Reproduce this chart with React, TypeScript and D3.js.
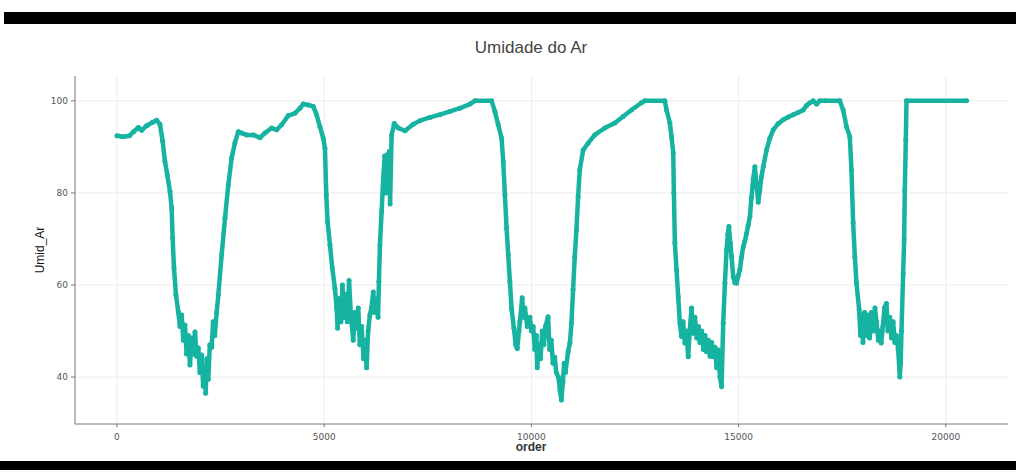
import React from "react";
import * as d3 from "d3";

// readings: order (x) and Umid_Ar (y)
const orders = [
  0, 150, 300, 400, 515, 595, 716, 850, 957, 1037, 1102, 1158, 1214, 1279, 1319, 1343, 1375, 1423, 1479,
  1520, 1560, 1600, 1640, 1680, 1720, 1761, 1800, 1840, 1882, 1920, 1962, 2000, 2043, 2080, 2123, 2140,
  2170, 2203, 2240, 2284, 2320, 2360, 2405, 2445, 2525, 2606, 2686, 2767, 2847, 2927, 3008, 3129, 3289,
  3450, 3570, 3732, 3853, 3973, 4134, 4294, 4415, 4495, 4616, 4736, 4816, 4897, 4977, 5018, 5050, 5082,
  5139, 5195, 5259, 5300, 5324, 5360, 5404, 5440, 5480, 5520, 5560, 5600, 5640, 5701, 5740, 5780, 5822,
  5860, 5902, 5950, 5990, 6023, 6060, 6103, 6140, 6184, 6220, 6264, 6300, 6320, 6345, 6385, 6425, 6460,
  6490, 6520, 6546, 6570, 6590, 6627, 6690, 6787, 6948, 7149, 7310, 7551, 7792, 8034, 8275, 8516, 8637,
  9039, 9119, 9199, 9280, 9320, 9360, 9401, 9441, 9481, 9521, 9578, 9620, 9658, 9700, 9722, 9778, 9810,
  9843, 9900, 9964, 10000, 10043, 10080, 10120, 10140, 10180, 10220, 10260, 10300, 10340, 10402, 10440,
  10480, 10520, 10563, 10600, 10650, 10690, 10724, 10760, 10790, 10821, 10885, 10930, 10966, 11006, 11046,
  11087, 11127, 11167, 11248, 11368, 11529, 11770, 12012, 12214, 12415, 12656, 12737, 13220, 13261, 13341,
  13381, 13422, 13438, 13462, 13502, 13542, 13583, 13623, 13660, 13703, 13740, 13784, 13820, 13864, 13900,
  13945, 13990, 14030, 14065, 14110, 14150, 14190, 14226, 14270, 14310, 14350, 14387, 14430, 14470, 14508,
  14550, 14588, 14628, 14669, 14709, 14740, 14765, 14800, 14829, 14870, 14910, 14950, 14990, 15030, 15070,
  15111, 15150, 15191, 15232, 15272, 15310, 15352, 15392, 15430, 15473, 15510, 15550, 15594, 15674, 15750,
  15835, 15950, 16076, 16200, 16317, 16450, 16558, 16640, 16719, 16800, 16880, 16960, 17100, 17442, 17522,
  17603, 17683, 17723, 17763, 17804, 17844, 17908, 17940, 17964, 18000, 18040, 18085, 18120, 18160, 18206,
  18250, 18290, 18326, 18370, 18407, 18440, 18480, 18520, 18568, 18600, 18648, 18690, 18729, 18770, 18809,
  18850, 18889, 18910, 18930, 18970, 18994, 19010, 19034, 19051, 20500,
];

const umidAr = [
  92.4, 92.2, 92.4, 93.3, 94.2, 93.6, 94.6, 95.3, 95.8, 94.9, 91.2, 86.8, 83.9, 80.3, 76.7, 70.2, 63.7, 57.8, 54.2,
  51, 53.5, 48, 51.3, 45, 49, 42.6, 48.5, 45, 49.8, 44.5, 46.3, 41, 44.8, 38, 42, 36.5,
  44, 39.5, 47, 46.5, 52, 49, 54, 57.8, 66.5, 74.5, 81.7, 87.6, 90.9, 93.3, 93.0, 92.6, 92.6,
  92.0, 93.0, 94.1, 93.7, 94.8, 96.8, 97.3, 98.4, 99.3, 99.1, 98.8, 97.0, 94.4, 91.9, 89.7, 79.6, 73.8,
  68.7, 63.7, 59.3, 55, 50.6, 57, 52, 60, 53, 58, 52, 61, 54, 48, 54, 50.6, 55,
  47, 51, 44, 48, 42, 50, 53.5, 55, 58.5, 54, 57, 53, 60.7, 68.7, 75.9, 83.3, 88,
  80, 88.3, 84.5, 89, 77.6, 92.6, 95.1, 94.1, 93.5, 94.9, 95.7, 96.4, 97.0, 97.7, 98.4, 99.3, 100,
  100, 97.7, 94.8, 91.9, 86.8, 79.6, 72.3, 66.5, 60.7, 54.9, 50.6, 47, 46.2, 50, 52, 57.2, 53,
  55, 51, 53, 50, 51, 46, 49, 42, 47, 44, 50, 47, 51, 53.1, 46,
  48, 43, 44.3, 41, 40, 37, 35, 39, 43, 41, 45.5, 47.5, 51.7, 59, 66.2,
  72, 79.2, 85, 89.3, 90.8, 92.6, 94.1, 95.2, 96.6, 98, 99.6, 100, 100, 98, 95.2,
  92.2, 88.7, 80, 69.1, 63.3, 57.5, 51.7, 48.8, 52, 47.4, 50, 44.4, 50, 55, 49.5,
  53, 48.5, 51, 47.5, 50, 46, 49, 45.5, 48, 44.5, 47.5, 44.4, 46.5, 42, 45.9,
  40, 37.9, 51.7, 60.4, 67.6, 71, 72.7, 69, 66.2, 61.8, 60.5, 60.4, 62, 63.3, 66,
  68.3, 69.5, 71.2, 73, 74.8, 79, 83, 85.7, 82, 78, 80.5, 83.5, 85.7, 89.3, 91.8,
  93.7, 95, 95.9, 96.5, 97, 97.5, 98, 99, 99.6, 100, 99.3, 100, 100, 100, 98,
  94.4, 92.2, 85, 73.5, 66.2, 60.4, 54.6, 49, 53.5, 47.5, 54, 49, 53.5, 48.5, 54,
  50, 55, 52, 48, 50, 47.4, 51, 55, 56, 50, 53, 48.5, 52, 47.5, 49,
  46, 40, 43, 50, 62.5, 69.8, 80.6, 91.5, 100, 100,
];

const xTicks = [0, 5000, 10000, 15000, 20000];
const yTicks = [40, 60, 80, 100];

const W = 1016;
const H = 472;
const left = 75;
const right = 1008;
const top = 76;
const bottom = 424;
const teal = "#17b3a1";

const App = () => {
  const x = d3.scaleLinear().domain([-1013, 21500]).range([left, right]);
  const y = d3.scaleLinear().domain([29.8, 105.4]).range([bottom, top]);

  const pts: [number, number][] = orders.map((o, i) => [o, umidAr[i]]);
  const line = d3
    .line<[number, number]>()
    .x((d) => x(d[0]))
    .y((d) => y(d[1]));

  return (
    <svg
      width={W}
      height={H}
      style={{ position: "fixed", left: 0, top: 0, display: "block", background: "#fff" }}
    >
      <rect x={0} y={0} width={W} height={H} fill="#fff" />
      <rect x={4} y={12} width={W - 4} height={12} fill="#000" />
      <rect x={0} y={461} width={W} height={9} fill="#000" />

      <text
        x={531}
        y={53}
        textAnchor="middle"
        fontFamily="Liberation Sans, Arial, sans-serif"
        fontSize={17}
        fill="#444"
      >
        Umidade do Ar
      </text>

      {/* grid */}
      {yTicks.map((t) => (
        <line key={"gy" + t} x1={left} x2={right} y1={y(t)} y2={y(t)} stroke="#ececec" strokeWidth={1} />
      ))}
      {xTicks.map((t) => (
        <line key={"gx" + t} x1={x(t)} x2={x(t)} y1={top} y2={bottom} stroke="#ececec" strokeWidth={1} />
      ))}

      {/* axes */}
      <line x1={left} x2={left} y1={top} y2={bottom} stroke="#777" strokeWidth={1} />
      <line x1={left} x2={right} y1={bottom} y2={bottom} stroke="#777" strokeWidth={1} />
      {yTicks.map((t) => (
        <g key={"ty" + t}>
          <line x1={left - 4} x2={left} y1={y(t)} y2={y(t)} stroke="#777" />
          <text
            x={left - 7}
            y={y(t)}
            dy="0.35em"
            textAnchor="end"
            fontFamily="DejaVu Sans, sans-serif"
            fontSize={9}
            fill="#555"
          >
            {t}
          </text>
        </g>
      ))}
      {xTicks.map((t) => (
        <g key={"tx" + t}>
          <line x1={x(t)} x2={x(t)} y1={bottom} y2={bottom + 3} stroke="#777" />
          <text
            x={x(t)}
            y={440}
            textAnchor="middle"
            fontFamily="DejaVu Sans, sans-serif"
            fontSize={9}
            fill="#555"
          >
            {t}
          </text>
        </g>
      ))}

      <text
        x={531}
        y={451}
        textAnchor="middle"
        fontFamily="Liberation Sans, Arial, sans-serif"
        fontSize={12}
        fontWeight="bold"
        fill="#333"
      >
        order
      </text>
      <text
        transform="translate(44,250) rotate(-90)"
        textAnchor="middle"
        fontFamily="Liberation Sans Narrow, Liberation Sans, Arial, sans-serif"
        fontSize={12}
        fill="#111"
      >
        Umid_Ar
      </text>

      {/* points */}
      <path
        d={line(pts) || ""}
        fill="none"
        stroke={teal}
        strokeWidth={4.5}
        strokeLinejoin="round"
        strokeLinecap="round"
      />
      {pts.map((d, i) => (
        <circle key={i} cx={x(d[0])} cy={y(d[1])} r={2.5} fill={teal} />
      ))}
    </svg>
  );
};

export default App;
